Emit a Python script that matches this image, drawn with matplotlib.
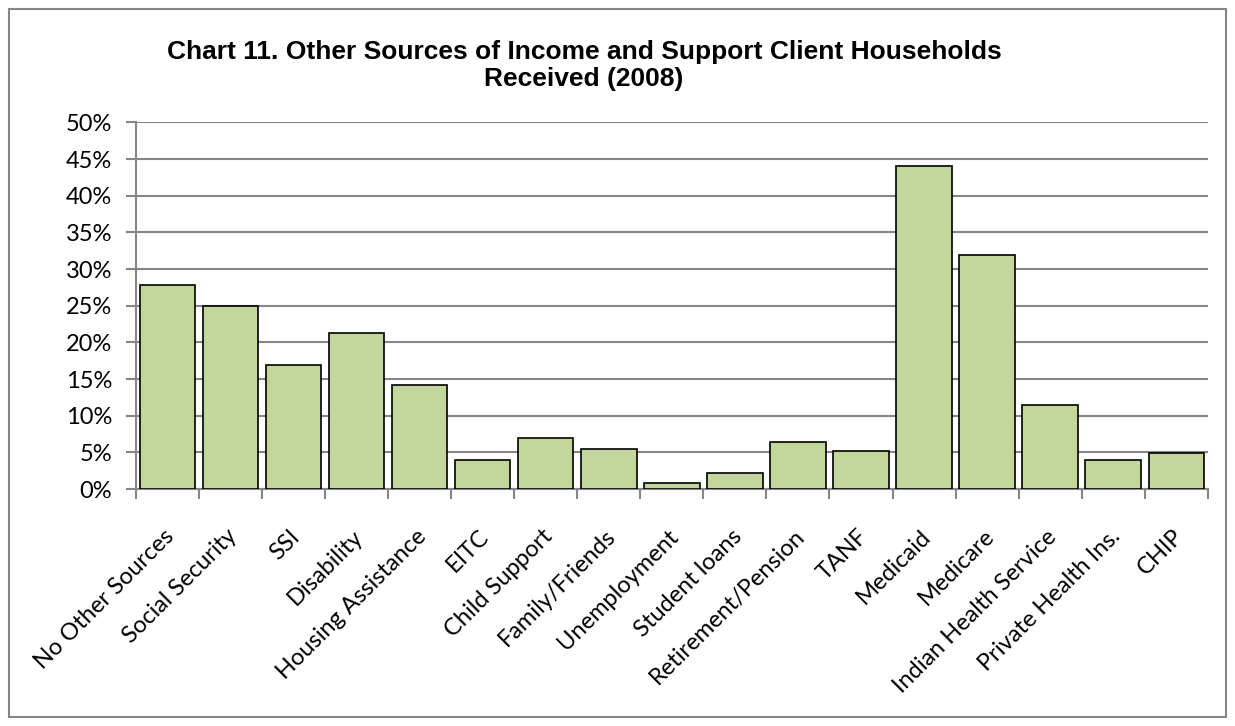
import matplotlib.pyplot as plt
from matplotlib.patches import Rectangle
from matplotlib.ticker import FuncFormatter, MultipleLocator
from matplotlib.transforms import ScaledTranslation
import numpy as np

categories = ['No Other Sources', 'Social Security', 'SSI', 'Disability',
              'Housing Assistance', 'EITC', 'Child Support', 'Family/Friends',
              'Unemployment', 'Student loans', 'Retirement/Pension', 'TANF',
              'Medicaid', 'Medicare', 'Indian Health Service',
              'Private Health Ins.', 'CHIP']
percents = [27.8, 24.9, 16.9, 21.3, 14.2, 3.9, 6.9, 5.5,
            0.8, 2.2, 6.4, 5.2, 44.0, 31.9, 11.5, 3.9, 4.95]

title = 'Chart 11. Other Sources of Income and Support Client Households\nReceived (2008)'

grey = '#868686'
plt.rcParams['font.family'] = ['Lato', 'DejaVu Sans']

fig = plt.figure(figsize=(12.35, 7.26), dpi=100)
ax = fig.add_axes([0.110, 0.3264, 0.868, 0.5049])

x = np.arange(len(categories))
ax.bar(x, percents, width=0.88, color='#C3D69B', edgecolor='black',
       linewidth=1.2, zorder=3)

ax.set_xlim(-0.5, len(categories) - 0.5)
ax.set_ylim(0, 50)
ax.yaxis.set_major_locator(MultipleLocator(5))
ax.yaxis.set_major_formatter(FuncFormatter(lambda v, p: '%d%%' % v))
ax.grid(axis='y', color=grey, linewidth=1.5, zorder=0)

# category labels at bar centres, tick marks between bars
ax.set_xticks(x)
ax.set_xticklabels(categories, rotation=45, ha='right', rotation_mode='anchor')
ax.set_xticks(np.arange(-0.5, len(categories)), minor=True)
ax.tick_params(axis='x', which='major', length=0, pad=12, labelsize=17)
ax.tick_params(axis='x', which='minor', length=7, width=1.5, color=grey)
ax.tick_params(axis='y', length=7, width=1.5, color=grey, labelsize=17, pad=10)

# nudge the slanted labels down and a little left
shift = ScaledTranslation(-4 / 100, -20 / 100, fig.dpi_scale_trans)
for lbl in ax.get_xticklabels():
    lbl.set_transform(lbl.get_transform() + shift)

for side in ['top', 'right']:
    ax.spines[side].set_visible(False)
for side in ['left', 'bottom']:
    ax.spines[side].set_color(grey)
    ax.spines[side].set_linewidth(1.5)

fig.text(0.473, 0.910, title, ha='center', va='center', fontsize=19,
         fontweight='bold', family='Liberation Sans', linespacing=1.15)

# chart border
fig.patches.append(Rectangle((0.007, 0.012), 0.986, 0.975, transform=fig.transFigure,
                             fill=False, edgecolor=grey, linewidth=1.5))

fig.savefig('out.png', dpi=100)
